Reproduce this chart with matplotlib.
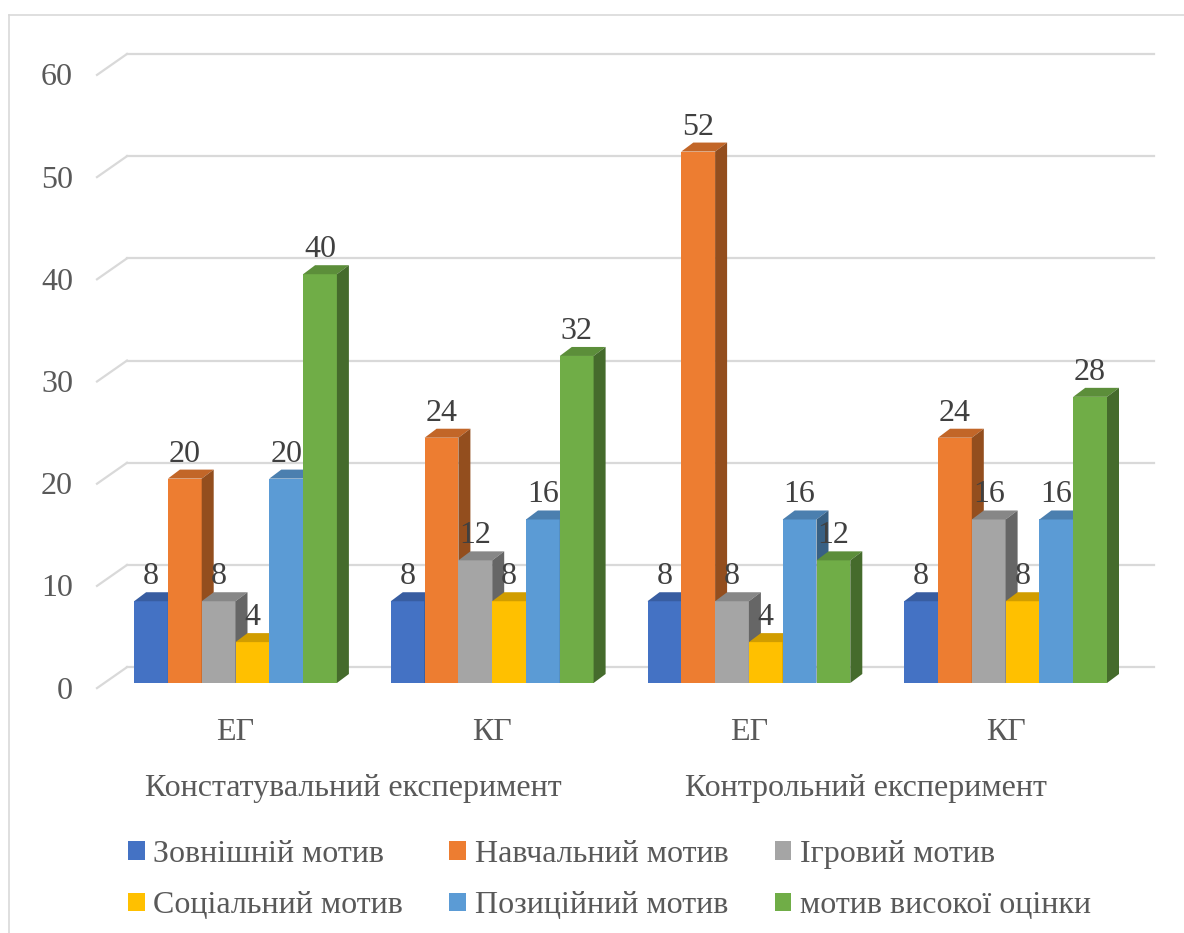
import matplotlib.pyplot as plt
from matplotlib.lines import Line2D
from matplotlib.patches import Patch
import numpy as np

plt.rcParams['font.family'] = ['Liberation Serif', 'DejaVu Serif']

groups = ['ЕГ', 'КГ', 'ЕГ', 'КГ']
stages = ['Констатувальний експеримент', 'Контрольний експеримент']
series = ['Зовнішній мотив', 'Навчальний мотив', 'Ігровий мотив',
          'Соціальний мотив', 'Позиційний мотив', 'мотив високої оцінки']
zovn = [8, 8, 8, 8]
navch = [20, 24, 52, 24]
igr = [8, 12, 8, 16]
soc = [4, 8, 4, 8]
poz = [20, 16, 16, 16]
vys = [40, 32, 12, 28]
values = [zovn, navch, igr, soc, poz, vys]
yticks = [0, 10, 20, 30, 40, 50, 60]

colors = ['#4472C4', '#ED7D31', '#A5A5A5', '#FFC000', '#5B9BD5', '#70AD47']

W, H = 1184, 933
pxx = 256.7   # pixels per group
pxy = 10.22   # pixels per unit

fig = plt.figure(figsize=(W / 100, H / 100), dpi=100)
ax_l, ax_r, ax_b, ax_t = 97, 1154, 683, 30
ax = fig.add_axes([ax_l / W, (H - ax_b) / H, (ax_r - ax_l) / W, (ax_b - ax_t) / H])
x0 = (ax_l - 235.5) / pxx
x1 = (ax_r - 235.5) / pxx
ax.set_xlim(x0, x1)
ax.set_ylim(0, (ax_b - ax_t) / pxy)
ax.axis('off')

def shade(c, f):
    r, g, b = [int(c[i:i + 2], 16) / 255 for i in (1, 3, 5)]
    return (r * f, g * f, b * f)

fs = 23

# floor / wall gridlines
gc = '#D9D9D9'
back = 1.55
front = -0.5
diag = 30 / pxx
for t in yticks:
    ax.plot([x0 + diag, x1], [t + back, t + back], color=gc, lw=1.6, zorder=0, clip_on=False)
    ax.plot([x0, x0 + diag], [t + front, t + back], color=gc, lw=1.6, zorder=0, clip_on=False)
    ax.text(x0 - 24 / pxx, t + front - 0.3, str(t), ha='right', va='center',
            fontsize=fs, color='#595959')

# bars with depth
bw = 33.8 / pxx
dx = 12 / pxx
dy = 9 / pxy
xg = np.arange(len(groups))
for k, vals in enumerate(values):
    c = colors[k]
    xs = xg + (k - 2.5) * bw
    z = 2 + k
    ax.bar(xs, vals, bw, color=c, zorder=z, linewidth=0)
    for x, v in zip(xs, vals):
        xl, xr = x - bw / 2, x + bw / 2
        ax.fill([xl, xl + dx, xr + dx, xr], [v, v + dy, v + dy, v],
                color=shade(c, 0.82), zorder=z, lw=0)
        ax.fill([xr, xr + dx, xr + dx, xr], [0, dy, v + dy, v],
                color=shade(c, 0.62), zorder=z, lw=0)
        ax.text(x, v + 2.4, str(v), ha='center', va='center', fontsize=fs,
                color='#404040', zorder=20)

# category labels
for i, g in enumerate(groups):
    ax.text(i, -4.8, g, ha='center', va='center', fontsize=fs, color='#595959')
for j, s in enumerate(stages):
    ax.text(2 * j + 0.5 - 11 / pxx, -10.3, s, ha='center', va='center',
            fontsize=fs, color='#595959')

# legend (row-wise order)
order = [0, 3, 1, 4, 2, 5]
handles = [Patch(facecolor=colors[i], edgecolor='none') for i in order]
labels = [series[i] for i in order]
fig.legend(handles, labels, ncol=3, loc='upper left', bbox_to_anchor=(128 / W, 1 - 840 / H),
           frameon=False, prop={'family': ['Liberation Serif'], 'size': 23},
           handlelength=0.52, handleheight=0.52,
           handletextpad=0.27, columnspacing=1.45, labelspacing=0.7, borderpad=0,
           borderaxespad=0, labelcolor='#595959')

# chart frame (top and left edge)
fig.add_artist(Line2D([9 / W, 1], [1 - 15 / H, 1 - 15 / H], color='#D9D9D9', lw=1.2))
fig.add_artist(Line2D([9 / W, 9 / W], [0, 1 - 15 / H], color='#D9D9D9', lw=1.2))

fig.savefig('out.png', dpi=100)
